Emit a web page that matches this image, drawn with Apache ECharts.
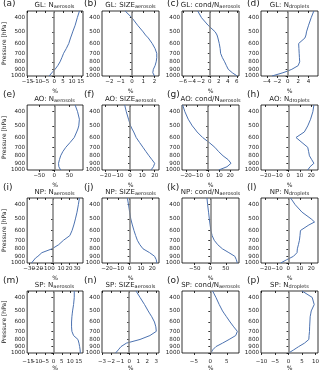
<!DOCTYPE html>
<html>
<head>
<meta charset="utf-8">
<script src="https://cdn.jsdelivr.net/npm/echarts@6/dist/echarts.min.js"></script>
<style>
  html, body { margin: 0; padding: 0; background: #fff; }
  #chart { width: 320px; height: 372px; }
</style>
</head>
<body>
<div id="chart"></div>
<script>
// pressure levels (hPa), shared by every panel
var pressure = [360, 400, 450, 500, 525, 550, 600, 650, 700, 750, 800, 850, 900, 925, 950, 1000];
var pressureTicks = [400, 500, 600, 700, 800, 900, 1000];

var regions = ['GL', 'AO', 'NP', 'SP'];
var variables = [['N', 'aerosols'], ['SIZE', 'aerosols'], ['cond/N', 'aerosols'], ['N', 'droplets']];
var letters = ['a','b','c','d','e','f','g','h','i','j','k','l','m','n','o','p'];

// % change profiles, one per panel
var glNAer  = [14.2, 13, 11.8, 10.4, 9.8, 9.2, 8.2, 6.8, 5.3, 4.3, 3.3, 2.0, 0.5, -0.5, -1.3, -2.8];
var glSize  = [-0.6, 0.0, 0.5, 1.0, 1.2, 1.45, 1.8, 2.05, 2.2, 2.2, 2.15, 2.05, 1.9, 1.85, 1.85, 2.0];
var glCond  = [-2.7, -1.85, -0.4, 1.2, 1.6, 1.8, 2.1, 2.3, 2.4, 2.8, 3.3, 3.7, 4.1, 4.5, 5.0, 6.1];
var glNDrop = [5.0, 4.5, 4.0, 3.6, 3.5, 3.3, 2.1, 2.15, 2.2, 2.25, 2.3, 2.0, 0.8, 0.0, -0.9, -3.0];

var aoNAer  = [69, 77, 83, 81, 78, 74, 66, 52, 38, 28, 21, 17, 14, 13, 15, 21];
var aoSize  = [-4.3, -3, -1.2, 0.5, 1.7, 3, 5, 7.8, 10.5, 13, 15.4, 17.8, 20, 20.5, 19, 17];
var aoCond  = [-23, -21, -18, -14.3, -12, -10, -5, 1, 6, 9.5, 13.4, 18, 20.6, 21.8, 17, 9.5];
var aoNDrop = [22.4, 21.5, 19.5, 17, 15.5, 14, 6.7, 12, 17, 17.8, 18.5, 20.5, 22.4, 21, 19, 17];

var npNAer  = [33, 31.7, 30, 28, 27, 26, 23.8, 21, 13, 7, -1.3, -14, -19, -22, -24, -27];
var npSize  = [-2, -1, 0, 1, 1.7, 2.4, 3.8, 5.3, 6.8, 9, 11.8, 17.6, 22, 23, 23.5, 24];
var npCond  = [-10.6, -8.5, -5.5, -3, -1.8, -0.5, 2, 6, 12.8, 24, 39, 60, 79, 82, 84, 87];
var npNDrop = [2, 6, 12, 20, 23, 18, 10.6, 10.2, 9.7, 8.8, 7.9, 7.6, 4.5, 1.5, -1.5, -6.7];

var spNAer  = [12.4, 12.4, 12, 11.4, 11.2, 11, 10.8, 10.8, 11, 12, 14.6, 15.2, 15.6, 15.8, 15.9, 16];
var spSize  = [0.76, 1.2, 1.7, 2.1, 2.3, 2.5, 2.8, 2.95, 3.0, 2.3, 1.2, -0.3, -0.9, -1.05, -1.2, -1.5];
var spCond  = [0.7, 1.7, 2.7, 3.7, 4.3, 4.9, 6, 7.1, 8.2, 7.7, 5.7, 3.7, 1.7, 1.1, 0.7, 0.2];
var spNDrop = [5, 8.75, 9.5, 8.4, 8.2, 8.0, 7.9, 7.8, 7.75, 7.6, 7.5, 5.9, 3.75, 2.8, 1.9, 0];

var profiles = [glNAer, glSize, glCond, glNDrop, aoNAer, aoSize, aoCond, aoNDrop,
                npNAer, npSize, npCond, npNDrop, spNAer, spSize, spCond, spNDrop];

// x tick labels and limits per panel
var xTicks = [
  [-15,-10,-5,0,5,10,15], [-2,-1,0,1,2], [-6,-4,-2,0,2,4,6], [-4,-2,0,2,4],
  [-50,0,50], [-20,-10,0,10,20], [-20,-10,0,10,20], [-20,-10,0,10,20],
  [-30,-20,-10,0,10,20,30], [-20,-10,0,10,20], [-50,0,50], [-20,-10,0,10,20],
  [-15,-10,-5,0,5,10,15], [-3,-2,-1,0,1,2,3], [-5,0,5], [-10,-5,0,5,10]
];
var xMin = [-15.2, -2.65, -6.2, -5.1, -90, -22.7, -23.6, -24, -32.5, -24.4, -91, -24, -15.6, -3.0, -8.6, -10.2];
var xMax = [16.2, 2.4, 6.5, 5.8, 95, 23.5, 27.8, 26, 37.5, 25.9, 92.5, 26, 17.6, 3.3, 8.7, 10.9];

var colLeft = [26, 102, 182, 261];
var letterLeft = [3, 84, 167, 247];
var rowTop = [11, 105, 198, 291];
var W = 57, H = 65;
var FONT = 'DejaVu Sans';
var TXT = '#222';

function fmtMinus(v) {
  return v < 0 ? '\u2212' + (-v) : String(v);
}

var grids = [], xAxes = [], yAxes = [], series = [], graphics = [];
var logTicks = pressureTicks.map(function (p) { return Math.log10(p); });

for (var i = 0; i < 16; i++) {
  var r = Math.floor(i / 4), c = i % 4;
  grids.push({
    left: colLeft[c], top: rowTop[r], width: W, height: H,
    show: true, borderColor: '#000', borderWidth: 0.8, backgroundColor: 'transparent'
  });
  xAxes.push({
    gridIndex: i, type: 'value', position: 'bottom', min: xMin[i], max: xMax[i],
    axisLine: { show: false }, splitLine: { show: false },
    axisTick: { show: true, length: 2, customValues: xTicks[i], lineStyle: { color: '#000', width: 0.8 } },
    // labels are placed below via convertToPixel so none get auto-hidden
    axisLabel: { show: false },
    name: '%', nameLocation: 'middle', nameGap: 12,
    nameTextStyle: { fontSize: 6, color: TXT, fontFamily: FONT }
  });
  xAxes.push({
    gridIndex: i, type: 'value', position: 'top', min: xMin[i], max: xMax[i],
    axisLine: { show: false }, splitLine: { show: false },
    axisTick: { show: true, inside: true, length: 2, customValues: xTicks[i], lineStyle: { color: '#000', width: 0.8 } },
    axisLabel: { show: false }
  });
  yAxes.push({
    gridIndex: i, type: 'value', inverse: true, min: Math.log10(360), max: 3,
    axisLine: { show: false }, splitLine: { show: false },
    axisTick: { show: true, length: 2, customValues: logTicks, lineStyle: { color: '#000', width: 0.8 } },
    axisLabel: {
      customValues: logTicks, fontSize: 5.6, margin: 2, color: TXT, fontFamily: FONT,
      hideOverlap: false, showMinLabel: true, showMaxLabel: true,
      formatter: function (v) { return Math.round(Math.pow(10, v)); }
    },
    name: c === 0 ? 'Pressure [hPa]' : '', nameLocation: 'middle', nameGap: 19, nameRotate: 90,
    nameTextStyle: { fontSize: 6, color: TXT, fontFamily: FONT }
  });
  var vals = profiles[i];
  series.push({
    type: 'line', xAxisIndex: 2 * i, yAxisIndex: i,
    data: vals.map(function (v, k) { return [v, Math.log10(pressure[k])]; }),
    showSymbol: false, silent: true,
    lineStyle: { color: '#4c72b0', width: 1 },
    markLine: {
      silent: true, symbol: 'none', label: { show: false },
      lineStyle: { color: '#808080', width: 1.5, type: 'solid' },
      data: [{ xAxis: 0 }]
    }
  });
  graphics.push({
    type: 'text', x: colLeft[c] + W / 2, y: rowTop[r] - 5.5,
    style: {
      text: '{m|' + regions[r] + ': ' + variables[c][0] + '}{s|' + variables[c][1] + '}',
      align: 'center', verticalAlign: 'middle',
      rich: {
        m: { fontSize: 7, fontFamily: FONT, fill: TXT },
        s: { fontSize: 5, fontFamily: FONT, fill: TXT, padding: [3, 0, 0, 0] }
      }
    }
  });
  graphics.push({
    type: 'text', x: letterLeft[c], y: rowTop[r] - (r === 0 ? 7.5 : 10),
    style: { text: '(' + letters[i] + ')', fontSize: 9, fontFamily: FONT, fill: TXT, verticalAlign: 'middle' }
  });
}

var chart = echarts.init(document.getElementById('chart'));
chart.setOption({
  animation: false,
  backgroundColor: '#fff',
  grid: grids,
  xAxis: xAxes,
  yAxis: yAxes,
  series: series
});

// x tick labels at the positions given by each panel's x axis
for (var j = 0; j < 16; j++) {
  var rr = Math.floor(j / 4);
  xTicks[j].forEach(function (t) {
    graphics.push({
      type: 'text',
      x: chart.convertToPixel({ xAxisIndex: 2 * j }, t),
      y: rowTop[rr] + H + 3,
      style: {
        text: fmtMinus(t), fontSize: 5.5, fontFamily: FONT, fill: TXT,
        align: 'center', verticalAlign: 'top'
      }
    });
  });
}
chart.setOption({ graphic: graphics });
</script>
</body>
</html>
